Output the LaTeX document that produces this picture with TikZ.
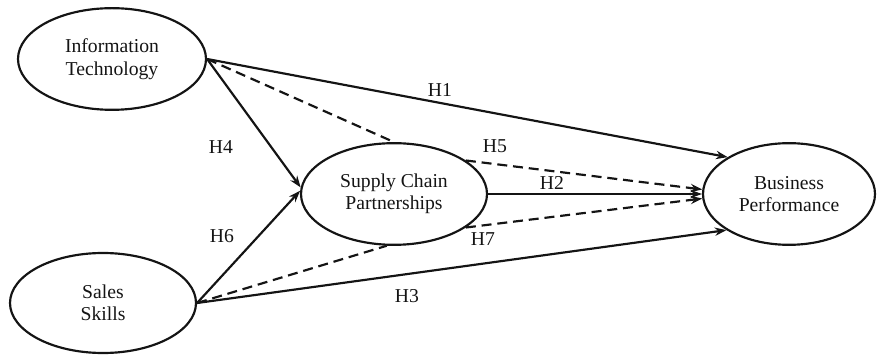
\documentclass[tikz,border=0pt]{standalone}
\usepackage{fontspec}
\setmainfont{Liberation Serif}
\usepackage{tikz}
\usetikzlibrary{shapes.geometric, arrows.meta, positioning}
\definecolor{mydark}{RGB}{20,20,20}
\tikzset{
  construct/.style={ellipse, draw=mydark, line width=1.3pt, align=center,
    inner sep=0pt, font=\fontsize{11.8}{13.5}\selectfont\color{mydark}},
  arrow/.style={-{Stealth[length=7pt,width=5pt]}, line width=1.3pt, color=mydark},
  dasharrow/.style={arrow, dash pattern=on 6pt off 3.5pt},
  dashline/.style={line width=1.3pt, color=mydark, dash pattern=on 6pt off 3.5pt},
  hlabel/.style={font=\fontsize{11.8}{13.5}\selectfont\color{mydark}}
}

\begin{document}
\begin{tikzpicture}[x=0.6pt, y=-0.6pt]
  \useasboundingbox (0,0) rectangle (879,356);
  % Constructs
  \node[construct, minimum width=112.8pt, minimum height=61pt] (it) at (112,59) {Information\\Technology};
  \node[construct, minimum width=111.6pt, minimum height=60pt] (ss) at (103,303) {Sales\\Skills};
  \node[construct, minimum width=111.6pt, minimum height=61pt] (scp) at (394,194) {Supply Chain\\Partnerships};
  \node[construct, minimum width=103.2pt, minimum height=61pt] (bp) at (789,194) {Business\\Performance};
  % Direct paths
  \draw[arrow] (it.east) -- (bp.149);
  \draw[arrow] (it.east) -- (scp.176);
  \draw[arrow] (ss.east) -- (scp.178);
  \draw[arrow] (scp.east) -- (bp.west);
  \draw[arrow] (ss.east) -- (bp.210);
  % Mediated paths
  \draw[dashline] (it.east) -- (scp.north);
  \draw[dasharrow] (scp.25) -- (bp.177);
  \draw[dashline] (ss.east) -- (scp.262);
  \draw[dasharrow] (scp.335) -- (bp.183);
  % Labels
  \node[hlabel] (h1) at (440,90) {H1};
  \node[hlabel] (h2) at (552,183) {H2};
  \node[hlabel] (h3) at (407,296) {H3};
  \node[hlabel] (h4) at (221,147) {H4};
  \node[hlabel] (h5) at (495,146) {H5};
  \node[hlabel] (h6) at (222,236) {H6};
  \node[hlabel] (h7) at (483,239) {H7};
\end{tikzpicture}
\end{document}
